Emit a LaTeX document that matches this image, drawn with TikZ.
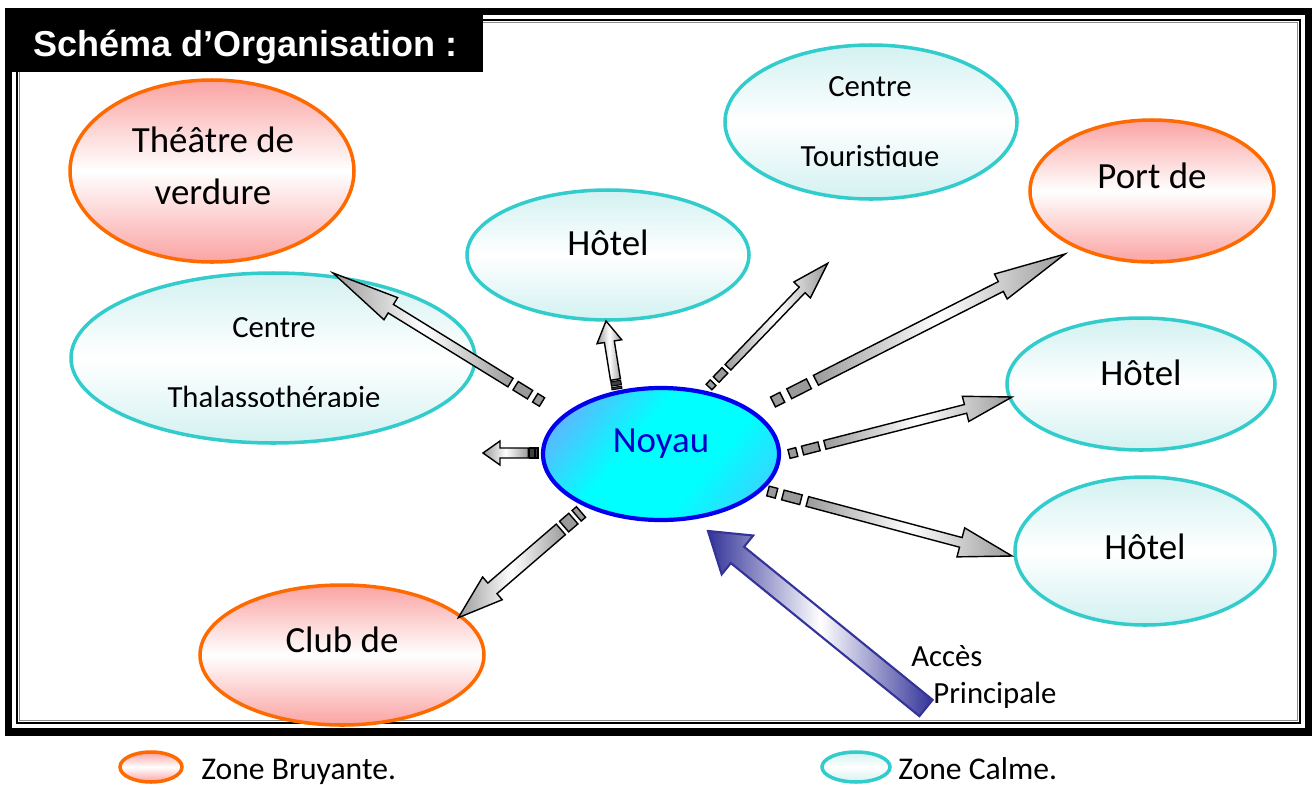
\documentclass[tikz,border=0pt]{standalone}
\usepackage{fontspec}
\setmainfont{Carlito}
\newfontfamily\titlefont{Liberation Sans}
\usetikzlibrary{shapes.geometric, calc}

\definecolor{orangeb}{HTML}{FF6A00}
\definecolor{pinkb}{HTML}{FBA3A3}
\definecolor{tealb}{HTML}{33CCCC}
\definecolor{tealf}{HTML}{D3F1F1}
\definecolor{noyb}{HTML}{0000EE}
\definecolor{noyf}{HTML}{55BDFF}
\definecolor{noyt}{HTML}{0000CC}
\definecolor{accb}{HTML}{333399}
\definecolor{arrg}{HTML}{9A9A9A}

\pgfdeclarehorizontalshading{noyshade}{100bp}{color(0bp)=(noyf); color(25bp)=(noyf); color(42bp)=(cyan); color(62bp)=(cyan); color(75bp)=(noyf!55!cyan); color(100bp)=(noyf!55!cyan)}

% block arrow: body style, tail style, from, to, half shaft, half head, head length, tail unit
\newcommand\blockarr[8]{%
  \path let \p1=($(#4)-(#3)$) in \pgfextra{%
    \pgfmathsetmacro\tmpang{atan2(\y1,\x1)}%
    \pgfmathsetmacro\tmplen{veclen(\x1,\y1)/0.569055}%
    \global\let\arrang\tmpang\global\let\arrlen\tmplen};
  \begin{scope}[shift={(#3)}, rotate=\arrang]
    \ifdim#8pt>0pt
      \draw[#2] (0,-#5) rectangle ({1.6*#8},#5);
      \draw[#2] ({2.8*#8},-#5) rectangle ({6.2*#8},#5);
    \fi
    \draw[#1] ({7.4*#8},-#5) -- ({\arrlen-#7},-#5) -- ({\arrlen-#7},-#6) -- (\arrlen,0)
      -- ({\arrlen-#7},#6) -- ({\arrlen-#7},#5) -- ({7.4*#8},#5) -- cycle;
  \end{scope}}

\begin{document}
\begin{tikzpicture}[
    x=0.02cm, y=-0.02cm,
    sz/.style 2 args={minimum width=#1*0.02cm, minimum height=#2*0.02cm},
    zone/.style={ellipse, inner sep=0pt, line width=2pt},
    bruyant/.style={zone, draw=orangeb, top color=pinkb, bottom color=pinkb, middle color=white},
    calme/.style={zone, draw=tealb, top color=tealf, bottom color=tealf, middle color=white},
    noyau/.style={zone, draw=noyb, line width=2.4pt, shading=noyshade, shading angle=-40},
    lbl/.style={font=\fontsize{21}{29.6}\selectfont, align=center, inner sep=0pt},
    slbl/.style={font=\fontsize{17.5}{40.4}\selectfont, align=center, inner sep=0pt},
    lgd/.style={font=\fontsize{18}{22}\selectfont, anchor=base west, inner sep=0pt},
    arrbody/.style={draw=black, line width=0.8pt, left color=arrg, right color=arrg, middle color=white},
    arrtail/.style={draw=black, line width=0.8pt, fill=arrg},
    arrdark/.style={draw=black, line width=0.6pt, fill=black!75},
    accbody/.style={draw=accb, line width=1.2pt, left color=accb, right color=accb, middle color=white},
]
\useasboundingbox (0,0) rectangle (1313,785);

% frame and title
\draw[line width=0.15cm] (8.5,11.5) rectangle (1308.5,732);
\draw[line width=0.04cm] (17,20) rectangle (1300,723);
\draw[black!45, line width=0.02cm] (19.5,22.5) rectangle (1297.5,720.5);
\fill (5,7.5) rectangle (483,72);
\node[anchor=west, inner sep=0pt, text=white, font=\titlefont\bfseries\fontsize{20.5}{24}\selectfont] (titre) at (33,47) {Schéma d’Organisation :};

% zones
\node[bruyant, sz={284}{182}] (theatre) at (212,171) {};
\node[calme, sz={292}{154}] (touristique) at (871,122) {};
\node[calme, sz={282}{130}] (hotelA) at (608,255) {};
\node[bruyant, sz={244}{142}] (port) at (1152,191) {};
\node[calme, sz={404}{170}] (thalasso) at (273,358) {};
\node[calme, sz={268}{132}] (hotelB) at (1141,384) {};
\node[calme, sz={260}{148}] (hotelC) at (1145,551) {};
\node[bruyant, sz={284}{140}] (club) at (342,655) {};
\node[noyau, sz={236}{132}] (noyau) at (661,454) {};

\node[lbl] (theatre-t) at (213,166) {Théâtre de\\verdure};
\begin{scope}
  \clip (700,60) rectangle (1040,166);
  \node[slbl] (touristique-t) at (870,124) {Centre\\Touristique};
\end{scope}
\node[lbl] (hotelA-t) at (608,243) {Hôtel};
\node[lbl] (port-t) at (1152,176) {Port de};
\begin{scope}
  \clip (80,300) rectangle (470,406);
  \node[slbl] (thalasso-t) at (274,365) {Centre\\Thalassothérapie};
\end{scope}
\node[lbl] (hotelB-t) at (1141,373) {Hôtel};
\node[lbl] (hotelC-t) at (1145,547) {Hôtel};
\node[lbl] (club-t) at (342,640) {Club de};
\node[lbl, text=noyt] (noyau-t) at (661,444) {Noyau};

% arrows out of the core
\coordinate (tA) at (542,402); \coordinate (hA) at (333,273);
\coordinate (tB) at (538,453); \coordinate (hB) at (483,453);
\coordinate (tC) at (617,389); \coordinate (hC) at (606,321);
\coordinate (tD) at (709,387); \coordinate (hD) at (828,263);
\coordinate (tE) at (773,402); \coordinate (hE) at (1065,254);
\coordinate (tF) at (789,454); \coordinate (hF) at (1012,397);
\coordinate (tG) at (768,491); \coordinate (hG) at (1012,556);
\coordinate (tH) at (581,512); \coordinate (hH) at (458,618);
\blockarr{arrbody}{arrtail}{tA}{hA}{5}{13}{68}{5}
\blockarr{arrbody}{arrdark}{tB}{hB}{5}{12}{17}{1.3}
\blockarr{arrbody}{arrdark}{tC}{hC}{5}{12.5}{21}{1.3}
\blockarr{arrbody}{arrtail}{tD}{hD}{4}{11.5}{37}{3.7}
\blockarr{arrbody}{arrtail}{tE}{hE}{5.5}{14}{72}{6.5}
\blockarr{arrbody}{arrtail}{tF}{hF}{4.5}{13}{48}{5}
\blockarr{arrbody}{arrtail}{tG}{hG}{5}{15}{53}{5.5}
\blockarr{arrbody}{arrtail}{tH}{hH}{7}{15}{45}{3.6}

% main access
\coordinate (tI) at (926,708); \coordinate (hI) at (708,531);
\blockarr{accbody}{}{tI}{hI}{10.5}{25}{38}{0}
\node[slbl, anchor=west] (acces) at (911,656) {Accès};
\node[slbl, anchor=west] (principale) at (933,695) {Principale};

% legend
\node[bruyant, sz={62}{30}] (legB) at (151,767) {};
\node[lgd] (legB-t) at (201,779) {Zone Bruyante.};
\node[calme, sz={68}{30}] (legC) at (856,767) {};
\node[lgd] (legC-t) at (898,779) {Zone Calme.};

\end{tikzpicture}
\end{document}
